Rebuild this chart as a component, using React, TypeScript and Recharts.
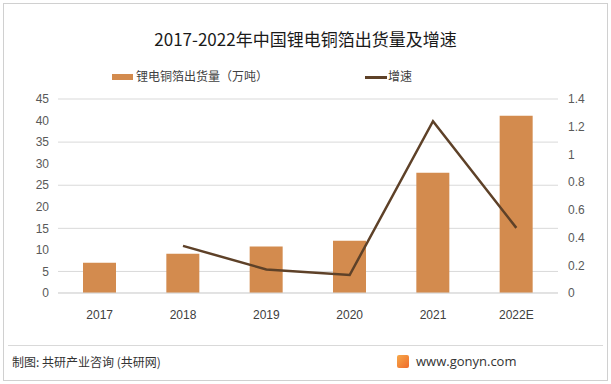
import { ComposedChart, Bar, Line, XAxis, YAxis, CartesianGrid } from "recharts"

const years = ["2017", "2018", "2019", "2020", "2021", "2022E"]
const shipments = [7, 9.1, 10.8, 12.1, 27.9, 41.1]
const growth = [null, 0.34, 0.17, 0.13, 1.24, 0.47]
const leftTicks = [0, 5, 10, 15, 20, 25, 30, 35, 40, 45]
const rightTicks = [0, 0.2, 0.4, 0.6, 0.8, 1, 1.2, 1.4]

const data = years.map((year, i) => ({
  year,
  shipments: shipments[i],
  growth: growth[i],
}))

const BAR = "#D38B4E"
const LINE = "#5E4128"
const cjk = '"Noto Sans CJK SC", "Noto Sans", sans-serif'
const tickStyle = { fontSize: 12, fill: "#595959", fontFamily: '"Liberation Sans", sans-serif' }

export default function App() {
  return (
    <div
      style={{
        position: "absolute",
        left: 0,
        top: 0,
        width: 611,
        height: 384,
        background: "#fff",
        fontFamily: cjk,
      }}
    >
      <div
        style={{
          position: "absolute",
          left: 3,
          top: 3,
          width: 603,
          height: 376,
          border: "1px solid #d0d0d0",
        }}
      />
      <div
        style={{
          position: "absolute",
          left: 0,
          width: 611,
          top: 26,
          textAlign: "center",
          fontSize: 17,
          color: "#1a1a1a",
        }}
      >
        2017-2022年中国锂电铜箔出货量及增速
      </div>

      {/* legend */}
      <div style={{ position: "absolute", left: 112, top: 74, width: 21, height: 6, background: BAR }} />
      <div style={{ position: "absolute", left: 136, top: 67, fontSize: 12, color: "#404040" }}>
        锂电铜箔出货量（万吨）
      </div>
      <div style={{ position: "absolute", left: 365, top: 76, width: 22, height: 2.5, background: LINE }} />
      <div style={{ position: "absolute", left: 388, top: 67, fontSize: 12, color: "#404040" }}>增速</div>

      <div style={{ position: "absolute", left: 0, top: 0 }}>
        <ComposedChart
          width={611}
          height={384}
          data={data}
          margin={{ top: 99, right: 0, bottom: 61, left: 0 }}
          barCategoryGap="30%"
        >
          <CartesianGrid yAxisId="left" vertical={false} stroke="#d9d9d9" />
          <XAxis
            dataKey="year"
            height={30}
            tickLine={false}
            axisLine={{ stroke: "#d9d9d9" }}
            tickMargin={11}
            tick={{ ...tickStyle, fill: "#404040" }}
          />
          <YAxis
            yAxisId="left"
            width={58}
            domain={[0, 45]}
            ticks={leftTicks}
            axisLine={false}
            tickLine={false}
            tickSize={0}
            tickMargin={9}
            tick={tickStyle}
          />
          <YAxis
            yAxisId="right"
            orientation="right"
            width={53}
            domain={[0, 1.4]}
            ticks={rightTicks}
            axisLine={false}
            tickLine={false}
            tickSize={0}
            tickMargin={10}
            tick={tickStyle}
          />
          <Bar yAxisId="left" dataKey="shipments" fill={BAR} isAnimationActive={false} />
          <Line
            yAxisId="right"
            dataKey="growth"
            stroke={LINE}
            strokeWidth={2.5}
            dot={false}
            type="linear"
            isAnimationActive={false}
          />
        </ComposedChart>
      </div>

      {/* footer */}
      <div style={{ position: "absolute", left: 8, top: 345, width: 595, height: 1, background: "#d9d9d9" }} />
      <div style={{ position: "absolute", left: 12, top: 353, fontSize: 12, color: "#333" }}>
        制图: 共研产业咨询 (共研网)
      </div>
      <div
        style={{
          position: "absolute",
          left: 397,
          top: 355,
          width: 12,
          height: 13,
          borderRadius: 2,
          background: "linear-gradient(135deg, #f6a94a, #ef6a2b)",
        }}
      />
      <div
        style={{
          position: "absolute",
          left: 416,
          top: 352,
          fontSize: 13,
          color: "#333",
          fontFamily: '"Open Sans", sans-serif',
        }}
      >
        www.gonyn.com
      </div>
    </div>
  )
}
